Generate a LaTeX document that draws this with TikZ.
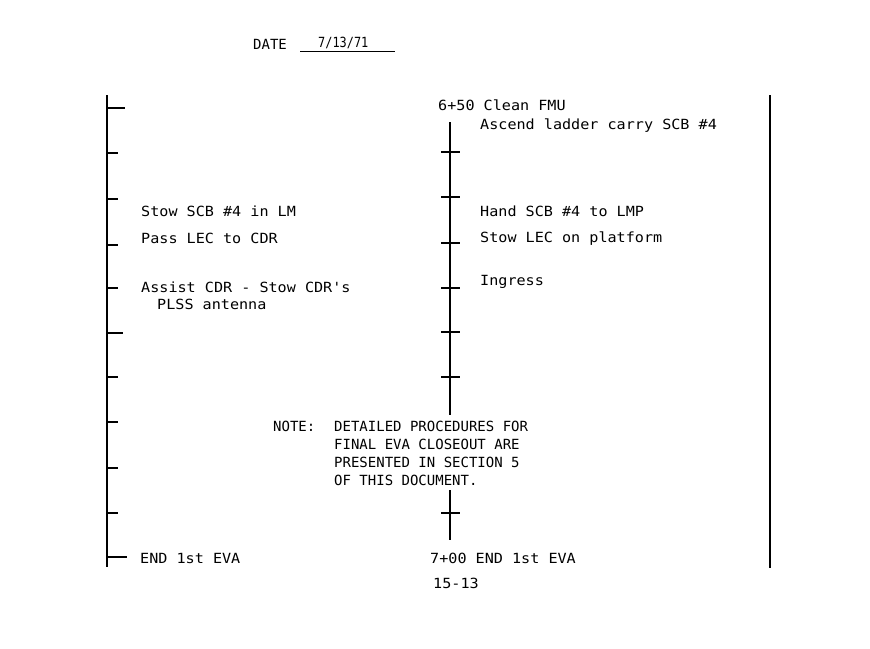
\documentclass[tikz,border=0pt]{standalone}
\usepackage{fontspec}
\newfontfamily\tw[FakeStretch=1.08]{DejaVu Sans Mono}
\newfontfamily\twn{DejaVu Sans Mono}
\newfontfamily\twc[FakeStretch=0.85]{DejaVu Sans Mono}
\begin{document}
\begin{tikzpicture}[x=1pt,y=-1pt,
  txt/.style={anchor=base west, inner sep=0pt, font=\tw\fontsize{14}{14}\selectfont},
  notetxt/.style={anchor=base west, inner sep=0pt, font=\twn\fontsize{14}{14}\selectfont},
  datetxt/.style={anchor=base west, inner sep=0pt, font=\twc\fontsize{14}{14}\selectfont},
  leftbar/.style={line width=2.8pt},
  lefttick/.style={line width=2pt},
  midbar/.style={line width=2pt},
  midtick/.style={line width=1.8pt},
  rightbar/.style={line width=2.4pt}]
\useasboundingbox (0,0) rectangle (870,648);
% date
\node[notetxt] (date) at (253,49) {DATE};
\node[datetxt] (dateval) at (318,47) {7/13/71};
\draw[line width=1pt] (300,51) -- (395,51);
% left time line
\draw[leftbar] (107,95) -- (107,567);
\foreach \y in {153,199,245,288,377,422,468,513}
  \draw[lefttick] (107,\y) -- (118,\y);
\draw[lefttick] (107,108) -- (125,108);
\draw[lefttick] (107,333) -- (123,333);
\draw[lefttick] (107,557) -- (127,557);
% middle time line
\draw[midbar] (450,122) -- (450,415);
\draw[midbar] (450,490) -- (450,540);
\foreach \y in {152,197,243,288,332,377,513}
  \draw[midtick] (441,\y) -- (460,\y);
% right border line
\draw[rightbar] (770,95) -- (770,568);
% left column texts
\node[txt] (l1) at (141,216) {Stow SCB \#4 in LM};
\node[txt] (l2) at (141,243) {Pass LEC to CDR};
\node[txt] (l3) at (141,292) {Assist CDR - Stow CDR's};
\node[txt] (l4) at (157,309) {PLSS antenna};
\node[txt] (l5) at (140,563) {END 1st EVA};
% right column texts
\node[txt] (t650) at (438,110) {6+50 Clean FMU};
\node[txt] (r1) at (480,129) {Ascend ladder carry SCB \#4};
\node[txt] (r2) at (480,216) {Hand SCB \#4 to LMP};
\node[txt] (r3) at (480,242) {Stow LEC on platform};
\node[txt] (r4) at (480,285) {Ingress};
\node[txt] (t700) at (430,563) {7+00 END 1st EVA};
% note
\node[notetxt] (note) at (273,431) {NOTE:};
\node[notetxt] (n1) at (334,431) {DETAILED PROCEDURES FOR};
\node[notetxt] (n2) at (334,449) {FINAL EVA CLOSEOUT ARE};
\node[notetxt] (n3) at (334,467) {PRESENTED IN SECTION 5};
\node[notetxt] (n4) at (334,485) {OF THIS DOCUMENT.};
% page number
\node[txt] (page) at (433,588) {15-13};
\end{tikzpicture}
\end{document}
